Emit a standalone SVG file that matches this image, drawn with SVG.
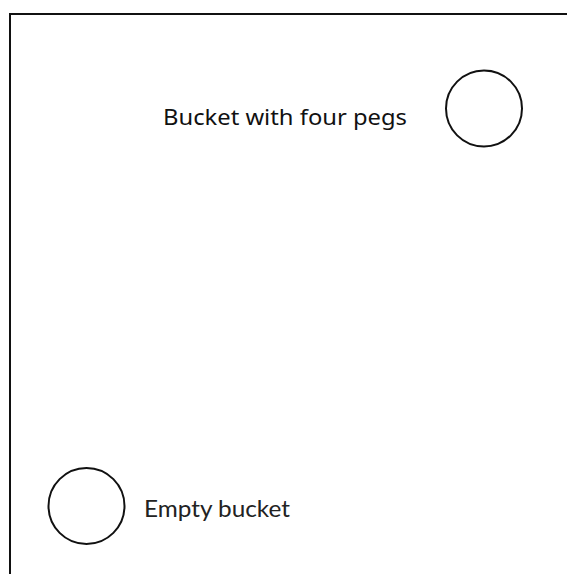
<svg xmlns="http://www.w3.org/2000/svg" width="567" height="574" viewBox="0 0 567 574">
  <style>
    .frame { fill: none; stroke: #111; stroke-width: 2; }
    .bucket { fill: #fff; stroke: #111; stroke-width: 2; }
    .comic { font-family: "Comic Sans MS", "Noto Sans", "DejaVu Sans", sans-serif; font-size: 22px; fill: #111; }
    .label { font-family: Lato, "Liberation Sans", sans-serif; font-size: 24px; fill: #222; }
  </style>
  <rect width="567" height="574" fill="#fff"/>
  <rect class="frame" x="10" y="14" width="600" height="600"/>
  <g id="full-bucket">
    <circle class="bucket" cx="484" cy="108.5" r="38"/>
    <text class="comic" x="163" y="125" textLength="244" lengthAdjust="spacingAndGlyphs">Bucket with four pegs</text>
  </g>
  <g id="empty-bucket">
    <circle class="bucket" cx="86.5" cy="506" r="38"/>
    <text class="label" x="144" y="517" textLength="146" lengthAdjust="spacingAndGlyphs">Empty bucket</text>
  </g>
  <g id="connectors"/>
</svg>
